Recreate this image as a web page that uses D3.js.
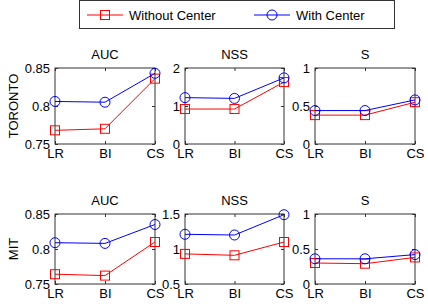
<!DOCTYPE html>
<html>
<head>
<meta charset="utf-8">
<script src="https://cdn.jsdelivr.net/npm/d3@7"></script>
<style>
  body { margin: 0; background: #fff; }
  svg text { font-family: "Liberation Sans", Arial, sans-serif; fill: #000; }
</style>
</head>
<body>
<div id="wrapper"></div>
<script>
// data
const methods = ["LR", "BI", "CS"]
const seriesNames = ["Without Center", "With Center"]
const rowNames = ["TORONTO", "MIT"]
const metricNames = ["AUC", "NSS", "S"]

const torontoAucWithout = [0.768, 0.770, 0.836]
const torontoAucWith = [0.806, 0.805, 0.843]
const torontoNssWithout = [0.92, 0.92, 1.63]
const torontoNssWith = [1.22, 1.20, 1.74]
const torontoSWithout = [0.38, 0.38, 0.55]
const torontoSWith = [0.44, 0.44, 0.58]

const mitAucWithout = [0.764, 0.762, 0.810]
const mitAucWith = [0.809, 0.808, 0.835]
const mitNssWithout = [0.93, 0.91, 1.10]
const mitNssWith = [1.21, 1.20, 1.49]
const mitSWithout = [0.30, 0.29, 0.38]
const mitSWith = [0.36, 0.36, 0.42]

const aucTicks = [0.75, 0.8, 0.85]
const nssTorontoTicks = [0, 1, 2]
const nssMitTicks = [0.5, 1, 1.5]
const sTicks = [0, 0.5, 1]

const panels = [
  [
    {title: metricNames[0], ticks: aucTicks, series: [torontoAucWithout, torontoAucWith]},
    {title: metricNames[1], ticks: nssTorontoTicks, series: [torontoNssWithout, torontoNssWith]},
    {title: metricNames[2], ticks: sTicks, series: [torontoSWithout, torontoSWith]},
  ],
  [
    {title: metricNames[0], ticks: aucTicks, series: [mitAucWithout, mitAucWith]},
    {title: metricNames[1], ticks: nssMitTicks, series: [mitNssWithout, mitNssWith]},
    {title: metricNames[2], ticks: sTicks, series: [mitSWithout, mitSWith]},
  ],
]

const colors = ["#ff0000", "#0000ff"]
const markers = ["square", "circle"]

// layout
const width = 428
const height = 307
const fontSize = "13px"
const colX = [[55, 155], [185, 284], [315, 415]]
const rowY = [[68, 144], [214, 284]]
const rowLabelY = [106, 249]

const svg = d3.select("#wrapper")
  .append("svg")
    .attr("width", width)
    .attr("height", height)

function drawMarker(g, type, x, y, color) {
  if (type === "square") {
    g.append("rect")
      .attr("x", x - 4.5)
      .attr("y", y - 4.5)
      .attr("width", 9)
      .attr("height", 9)
      .attr("fill", "none")
      .attr("stroke", color)
      .attr("stroke-width", 1)
  } else {
    g.append("circle")
      .attr("cx", x)
      .attr("cy", y)
      .attr("r", 5)
      .attr("fill", "none")
      .attr("stroke", color)
      .attr("stroke-width", 1)
  }
}

panels.forEach((row, ri) => {
  const [y0, y1] = rowY[ri]

  svg.append("text")
      .attr("transform", `translate(18, ${rowLabelY[ri]}) rotate(-90)`)
      .attr("text-anchor", "middle")
      .style("font-size", fontSize)
      .text(rowNames[ri])

  row.forEach((p, ci) => {
    const [x0, x1] = colX[ci]

    const xScale = d3.scalePoint()
      .domain(methods)
      .range([x0, x1])

    const yScale = d3.scaleLinear()
      .domain(d3.extent(p.ticks))
      .range([y1, y0])

    const g = svg.append("g")

    // box
    g.append("rect")
        .attr("x", x0)
        .attr("y", y0)
        .attr("width", x1 - x0)
        .attr("height", y1 - y0)
        .attr("fill", "none")
        .attr("stroke", "#333")
        .attr("stroke-width", 1)

    // y axis left + mirror on right
    const yAxis = g.append("g")
        .attr("transform", `translate(${x0},0)`)
        .call(d3.axisLeft(yScale).tickValues(p.ticks).tickSize(-3).tickPadding(5).tickFormat(d3.format("~g")))
    yAxis.select(".domain").remove()
    yAxis.selectAll(".tick line").attr("stroke", "#333")
    yAxis.selectAll("text")
        .style("font-size", fontSize)
        .attr("font-family", null)

    const yAxisR = g.append("g")
        .attr("transform", `translate(${x1},0)`)
        .call(d3.axisRight(yScale).tickValues(p.ticks).tickSize(-3).tickFormat(""))
    yAxisR.select(".domain").remove()
    yAxisR.selectAll(".tick line").attr("stroke", "#333")

    // x axis bottom + top mirror
    const xAxis = g.append("g")
        .attr("transform", `translate(0,${y1})`)
        .call(d3.axisBottom(xScale).tickSize(-3).tickPadding(5))
    xAxis.select(".domain").remove()
    xAxis.selectAll(".tick line").attr("stroke", "#333")
    xAxis.selectAll("text")
        .style("font-size", fontSize)
        .attr("font-family", null)

    const xAxisT = g.append("g")
        .attr("transform", `translate(0,${y0})`)
        .call(d3.axisTop(xScale).tickSize(-3).tickFormat(""))
    xAxisT.select(".domain").remove()
    xAxisT.selectAll(".tick line").attr("stroke", "#333")

    // title
    g.append("text")
        .attr("x", (x0 + x1) / 2)
        .attr("y", y0 - 9)
        .attr("text-anchor", "middle")
        .style("font-size", fontSize)
        .text(p.title)

    // lines
    const line = d3.line()
      .x((d, i) => xScale(methods[i]))
      .y(d => yScale(d))

    p.series.forEach((values, si) => {
      g.append("path")
          .datum(values)
          .attr("d", line)
          .attr("fill", "none")
          .attr("stroke", colors[si])
          .attr("stroke-width", 1)
      values.forEach((v, i) => {
        drawMarker(g, markers[si], xScale(methods[i]), yScale(v), colors[si])
      })
    })
  })
})

// legend
const legend = svg.append("g")
legend.append("rect")
    .attr("x", 79.5)
    .attr("y", 0.5)
    .attr("width", 315)
    .attr("height", 28)
    .attr("fill", "#fff")
    .attr("stroke", "#333")
    .attr("stroke-width", 1)

const legendX = [87, 254]
seriesNames.forEach((name, i) => {
  const lx = legendX[i]
  legend.append("line")
      .attr("x1", lx)
      .attr("x2", lx + 36)
      .attr("y1", 15)
      .attr("y2", 15)
      .attr("stroke", colors[i])
      .attr("stroke-width", 1)
  drawMarker(legend, markers[i], lx + 18, 15, colors[i])
  legend.append("text")
      .attr("x", lx + 42)
      .attr("y", 19.5)
      .style("font-size", fontSize)
      .text(name)
})
</script>
</body>
</html>
